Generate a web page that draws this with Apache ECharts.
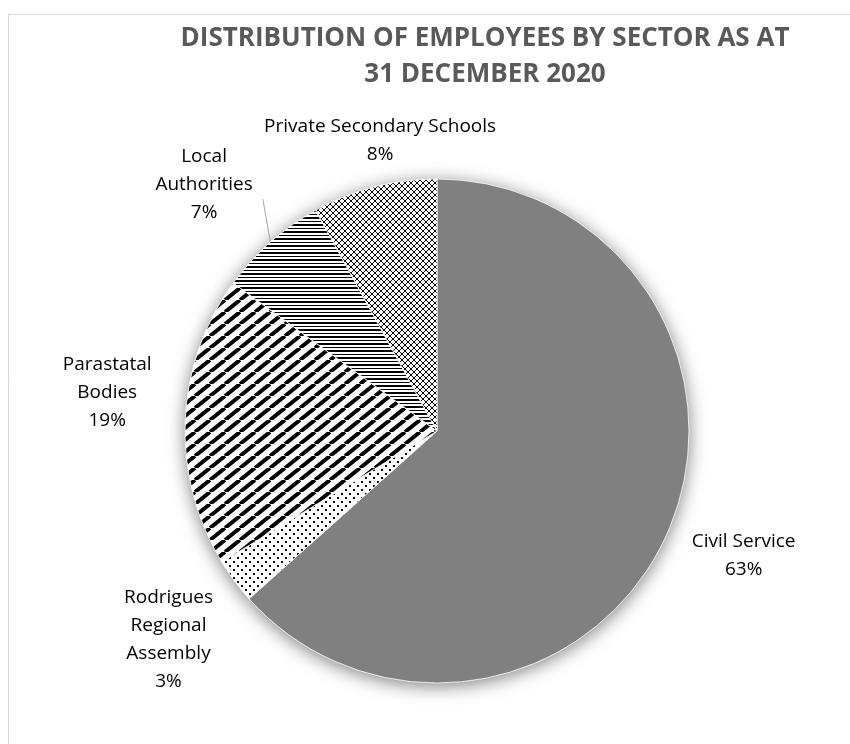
<!DOCTYPE html>
<html><head><meta charset="utf-8">
<script src="https://cdn.jsdelivr.net/npm/echarts@6/dist/echarts.min.js"></script>
<style>html,body{margin:0;padding:0;background:#fff}#c{width:850px;height:744px}</style>
</head><body><div id="c"></div>
<script>
// ---- data ----
const sectors = ['Civil Service', 'Rodrigues Regional Assembly', 'Parastatal Bodies', 'Local Authorities', 'Private Secondary Schools'];
const labelTexts = ['Civil Service', 'Rodrigues\nRegional\nAssembly', 'Parastatal\nBodies', 'Local\nAuthorities', 'Private Secondary Schools'];
const shares = [63.4, 2.9, 18.7, 7.0, 8.0];
const titleLines = ['DISTRIBUTION OF EMPLOYEES BY SECTOR AS AT', '31 DECEMBER 2020'];

// ---- patterns ----
function tile(w, h, draw) {
  const c = document.createElement('canvas'); c.width = w; c.height = h;
  const g = c.getContext('2d'); g.fillStyle = '#fff'; g.fillRect(0, 0, w, h);
  g.fillStyle = '#000'; g.strokeStyle = '#000'; draw(g); return c;
}
const patGrid = tile(6, 6, g => { for (let i = 0; i < 6; i++) { g.fillRect(i, i, 1, 1); g.fillRect(5 - i, i, 1, 1); } });
const patHoriz = tile(4, 7, g => { g.fillRect(0, 0, 4, 2); g.fillRect(0, 4, 4, 1); });
const patDiag = tile(15, 12, g => {
  g.lineWidth = 4;
  [-15, 0, 15].forEach(o => { g.beginPath(); g.moveTo(o, 12); g.lineTo(o + 15, 0); g.stroke(); });
});
const patDots = tile(8, 8, g => { g.fillRect(1, 1, 2, 2); g.fillRect(5, 5, 2, 2); });
const fills = ['#808080', {image: patDots, repeat: 'repeat'}, {image: patDiag, repeat: 'repeat'},
               {image: patHoriz, repeat: 'repeat'}, {image: patGrid, repeat: 'repeat'}];

// ---- geometry ----
const CX = 437, CY = 431, R = 252;
const total = shares.reduce((a, b) => a + b, 0);
function midAngle(i) { let s = 0; for (let j = 0; j < i; j++) s += shares[j]; return (s + shares[i] / 2) / total * 360; }
const labelAdjust = [{gap: 79, turn: -2}, {gap: 88, turn: -1.3}, {gap: 80, turn: 4.3}, {gap: 87, turn: -2}, {gap: 43.5, turn: 3.3}];
function polar(deg, d) { const a = deg * Math.PI / 180; return [CX + d * Math.sin(a), CY - d * Math.cos(a)]; }

const chart = echarts.init(document.getElementById('c'), null, {renderer: 'canvas'});
chart.setOption({
  animation: false,
  backgroundColor: '#fff',
  title: {
    text: titleLines.join('\n'), left: 485, top: 21, textAlign: 'center', padding: 0,
    textStyle: {fontFamily: 'Open Sans', fontWeight: 'bold', fontSize: 26, lineHeight: 36, color: '#595959'}
  },
  graphic: [{type: 'rect', silent: true, z: -1, shape: {x: 8.5, y: 14.5, width: 1000, height: 1000},
             style: {fill: 'none', stroke: '#d9d9d9', lineWidth: 1}}],
  series: [
    {
      type: 'pie', silent: true, center: [CX, CY], radius: R, startAngle: 90, z: 1,
      label: {show: false}, labelLine: {show: false},
      itemStyle: {color: '#fff', shadowBlur: 18, shadowColor: 'rgba(0,0,0,0.5)', shadowOffsetY: 3},
      emphasis: {disabled: true},
      data: shares.map((v, i) => ({name: sectors[i], value: v}))
    },
    {
      type: 'pie', center: [CX, CY], radius: R, startAngle: 90, z: 2,
      percentPrecision: 0, avoidLabelOverlap: false, emphasis: {disabled: true},
      itemStyle: {borderColor: '#fff', borderWidth: 0.8},
      label: {
        show: true, position: 'outside', color: '#000',
        fontFamily: 'Open Sans', fontSize: 19, lineHeight: 28,
        formatter: p => labelTexts[p.dataIndex] + '\n' + p.percent + '%'
      },
      labelLine: {show: false, lineStyle: {color: '#a6a6a6', width: 1}},
      labelLayout: params => {
        const i = params.dataIndex;
        const pos = polar(midAngle(i) + labelAdjust[i].turn, R + labelAdjust[i].gap);
        const out = {x: pos[0], y: pos[1], align: 'center', verticalAlign: 'middle'};
        if (i === 3) {
          const p0 = polar(midAngle(i), R), p1 = polar(midAngle(i) + 4.5, R + 38);
          out.labelLinePoints = [p0, p1, p1];
        }
        return out;
      },
      data: shares.map((v, i) => ({
        name: sectors[i], value: v,
        itemStyle: {color: fills[i]},
        labelLine: {show: i === 3}
      }))
    }
  ]
});
</script>
</body></html>
